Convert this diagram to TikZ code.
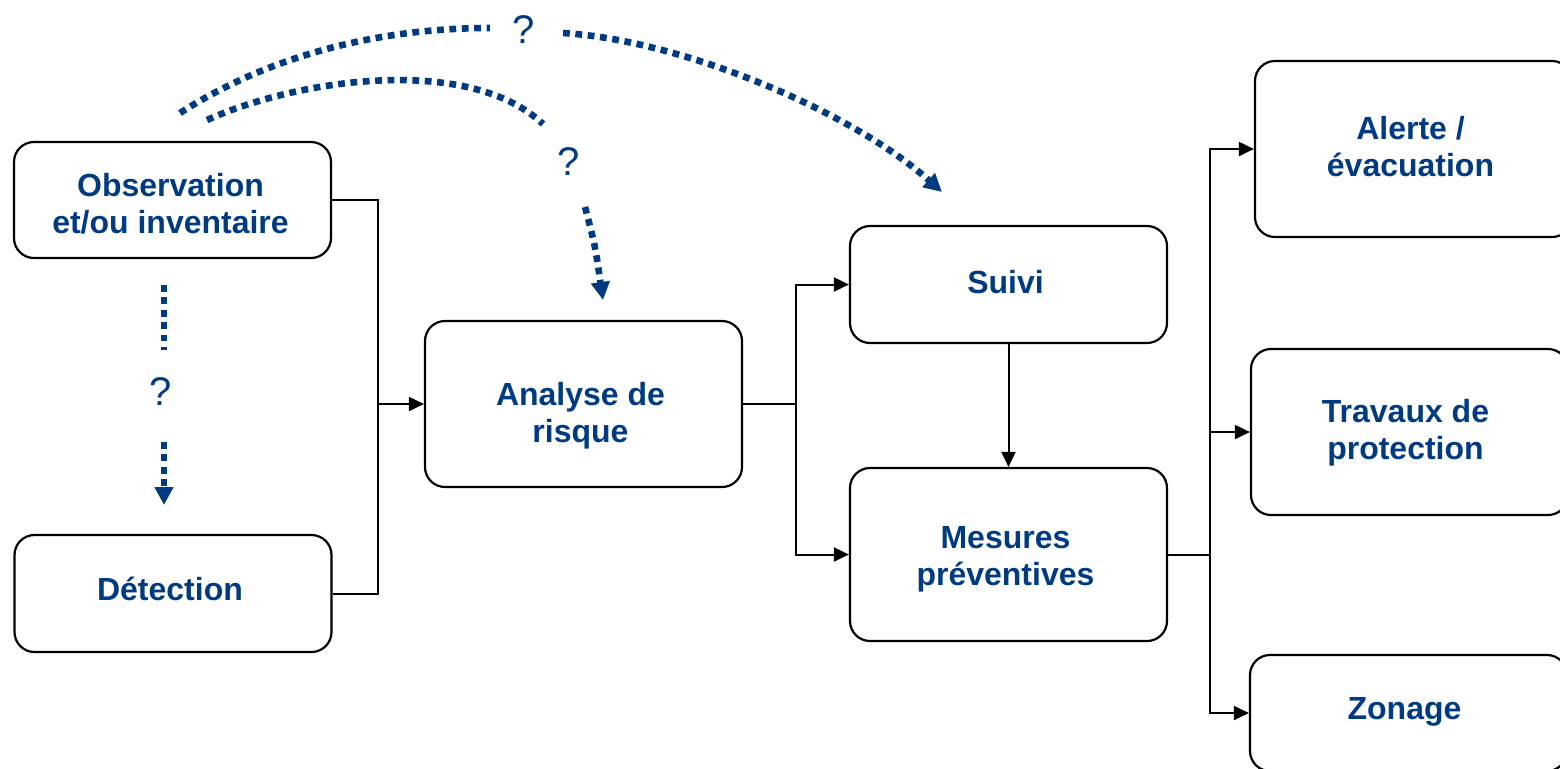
\documentclass[tikz,border=0pt]{standalone}
\usepackage{fontspec}
\setmainfont{Liberation Sans}
\usetikzlibrary{arrows.meta}
\definecolor{dblue}{RGB}{0,59,130}
\begin{document}
\begin{tikzpicture}[x=0.5pt,y=-0.5pt,
  box/.style={draw=black,line width=1.1pt,rounded corners=10pt,inner sep=0pt,minimum width=158.5pt},
  txt/.style={inner sep=0pt,align=center,text=dblue,font=\bfseries\fontsize{16}{18.5}\selectfont},
  conn/.style={draw=black,line width=1pt,-{Triangle[length=7.5pt,width=7pt]}},
  plain/.style={draw=black,line width=1pt},
  dots/.style={draw=dblue,line width=3.3pt,dash pattern=on 3.4pt off 2.8pt},
  dotarrow/.style={dots,-{Triangle[length=9pt,width=9pt]}},
  qmark/.style={text=dblue,font=\fontsize{20}{24}\selectfont,inner sep=0pt}]
\useasboundingbox (0,0) rectangle (1560,768);
\clip (0,0) rectangle (1560,768);
% boxes
\node[box,minimum height=58pt] (obs) at (172.5,200) {};
\node[box,minimum height=58.5pt] (det) at (173,593.5) {};
\node[box,minimum height=83pt] (ana) at (583.5,404) {};
\node[box,minimum height=58.5pt] (suivi) at (1008.5,284.5) {};
\node[box,minimum height=86.5pt] (mes) at (1008.5,554.5) {};
\node[box,minimum height=88pt] (alerte) at (1413.5,149) {};
\node[box,minimum height=83pt] (trav) at (1409.5,432) {};
\node[box,minimum height=58pt] (zon) at (1408.5,713) {};
% box texts
\node[txt] (obst) at ([shift={(-2,4)}]obs.center) {Observation\\et/ou inventaire};
\node[txt] (dett) at ([shift={(-3,-5)}]det.center) {Détection};
\node[txt] (anat) at ([shift={(-3,12)}]ana.center) {Analyse de\\risque};
\node[txt] (suivit) at ([shift={(-3,-2)}]suivi.center) {Suivi};
\node[txt] (mest) at ([shift={(-3,5)}]mes.center) {Mesures\\préventives};
\node[txt] (alertet) at ([shift={(-3,-2)}]alerte.center) {Alerte /\\évacuation};
\node[txt] (travt) at ([shift={(-4,1)}]trav.center) {Travaux de\\protection};
\node[txt] (zont) at ([shift={(-4,-1)}]zon.center) {Zonage};
% question marks
\node[qmark] (q1) at (524,30) {?};
\node[qmark] (q2) at (569,162) {?};
\node[qmark] (q3) at (161,392) {?};
% solid connectors
\coordinate (j1) at (378,404);
\draw[plain] (obs.east) -| (j1);
\draw[plain] (det.east) -| (j1);
\draw[conn] (j1) -- (ana.west);
\coordinate (j2) at (796,404);
\draw[plain] (ana.east) -- (j2);
\draw[conn] (j2) |- (suivi.west);
\draw[conn] (j2) |- (mes.west);
\draw[conn] (suivi.south) -- (mes.north);
\coordinate (j3) at (1210,554.5);
\draw[plain] (mes.east) -- (j3);
\draw[conn] (j3) |- (alerte.west);
\draw[conn] (j3) |- (trav.west);
\draw[conn] (j3) |- (zon.west);
% dotted connectors
\coordinate (u1) at (180,113);
\coordinate (u2) at (490,28);
\coordinate (u3) at (563,33);
\coordinate (u4) at (942,192);
\draw[dots] (u1) .. controls (270,55) and (380,28) .. (u2);
\draw[dotarrow] (u3) .. controls (680,40) and (850,110) .. (u4);
\coordinate (l1) at (207,120);
\coordinate (l2) at (543,124);
\coordinate (l3) at (585,207);
\coordinate (l4) at (603,300);
\draw[dots] (l1) .. controls (300,78) and (470,55) .. (l2);
\draw[dotarrow] (l3) .. controls (595,245) .. (l4);
\coordinate (v1) at (164,285);
\coordinate (v2) at (164,350);
\coordinate (v3) at (164,442);
\coordinate (v4) at (164,505);
\draw[dots] (v1) -- (v2);
\draw[dotarrow] (v3) -- (v4);
\end{tikzpicture}
\end{document}
